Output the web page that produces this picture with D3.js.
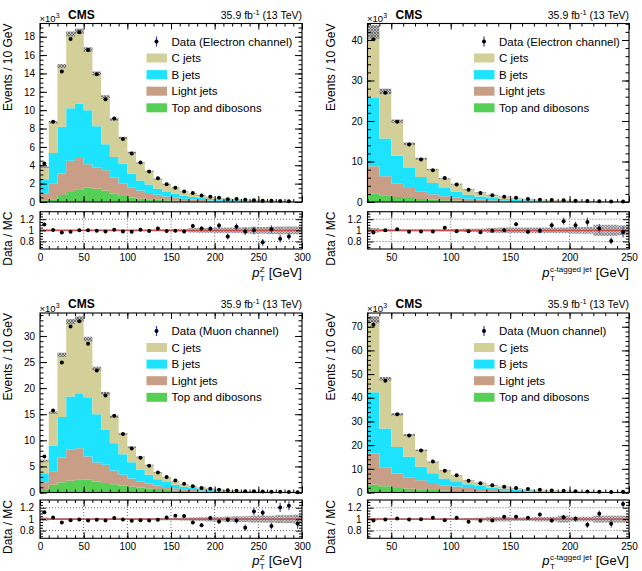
<!DOCTYPE html>
<html><head><meta charset="utf-8">
<script src="https://cdn.jsdelivr.net/npm/d3@7"></script>
<style>
body{margin:0;background:#fff}
svg{display:block}
text{font-family:"Liberation Sans",Arial,Helvetica,sans-serif;fill:#000}
</style>
</head><body>
<svg id="c" width="642" height="571"></svg>
<script>
// ---------------- DATA ----------------
const binWidth = 10;
const zBinLow   = [0,10,20,30,40,50,60,70,80,90,100,110,120,130,140,150,160,170,180,190,200,210,220,230,240,250,260,270,280,290];
const jetBinLow = [30,40,50,60,70,80,90,100,110,120,130,140,150,160,170,180,190,200,210,220,230,240];

const xTicksZ   = [0,50,100,150,200,250,300];
const xTicksJet = [50,100,150,200,250];
const yTicksElZ   = [0,2,4,6,8,10,12,14,16,18];
const yTicksElJet = [0,10,20,30,40];
const yTicksMuZ   = [0,5,10,15,20,25,30];
const yTicksMuJet = [0,10,20,30,40,50,60,70];
const ratioTicks  = [0.8,1,1.2];
const legendLabels = ["C jets","B jets","Light jets","Top and dibosons"];

// Electron channel, pT(Z)  (x10^3 events)
const elZ_top   = [0.2,0.3,0.75,1.1,1.4,1.55,1.45,1.25,0.9,0.65,0.5,0.35,0.3,0.25,0.2,0.15,0.1,0.08,0.07,0.05,0.04,0.035,0.03,0.025,0.02,0.017,0.014,0.012,0.01,0.008];
const elZ_light = [0.75,1.7,2.35,3.4,3.5,2.55,2.3,2.2,1.75,1.4,1.1,0.9,0.68,0.55,0.4,0.3,0.25,0.19,0.14,0.11,0.09,0.065,0.05,0.045,0.035,0.028,0.023,0.018,0.015,0.012];
const elZ_b     = [1.45,3.35,5.1,5.7,5.8,5.9,4.5,2.85,2.25,2.15,1.5,1.1,0.92,0.65,0.5,0.45,0.35,0.28,0.22,0.18,0.14,0.12,0.1,0.08,0.065,0.055,0.043,0.04,0.03,0.025];
const elZ_c     = [1.4,3.35,6.6,8.1,7.9,6.6,5.75,5.15,4.1,2.8,2.3,1.9,1.45,1.05,0.85,0.65,0.45,0.35,0.27,0.21,0.15,0.13,0.12,0.1,0.08,0.07,0.06,0.05,0.045,0.035];
const elZ_data  = [4.2,8.74,14.2,17.75,18.5,16.55,13.9,11.2,9.1,6.86,5.27,4.29,3.32,2.59,1.93,1.54,1.13,0.97,0.72,0.57,0.46,0.31,0.32,0.245,0.2,0.133,0.143,0.102,0.089,null];
const elZ_ratio = [1.107,1.005,0.96,0.976,1.0,1.0,0.995,0.98,1.01,0.98,0.976,1.01,0.99,1.035,0.99,0.995,0.98,1.08,1.035,1.03,1.085,0.89,1.065,0.98,1.0,0.785,1.02,0.85,0.89,null];
const elZ_rErr  = [0.02,0.012,0.01,0.008,0.008,0.008,0.009,0.01,0.011,0.013,0.015,0.017,0.019,0.022,0.025,0.028,0.032,0.037,0.04,0.045,0.05,0.055,0.06,0.065,0.07,0.06,0.07,0.07,0.06,null];
const elZ_unc   = [0.02,0.015,0.015,0.015,0.015,0.015,0.015,0.015,0.015,0.015,0.015,0.015,0.016,0.018,0.02,0.022,0.025,0.04,0.045,0.045,0.05,0.05,0.05,0.055,0.06,0.06,0.065,0.07,0.07,0.07];

// Electron channel, pT(c-tagged jet)
const elJ_top   = [2.1,1.65,1.25,1.0,0.75,0.6,0.45,0.35,0.25,0.2,0.15,0.12,0.09,0.07,0.055,0.045,0.035,0.028,0.022,0.018,0.014,0.011];
const elJ_light = [6.7,4.7,3.25,2.45,1.75,1.3,0.95,0.7,0.55,0.4,0.3,0.23,0.18,0.14,0.105,0.085,0.065,0.052,0.043,0.032,0.026,0.021];
const elJ_b     = [16.9,9.35,6.9,4.95,3.7,2.8,2.05,1.5,1.0,0.75,0.55,0.4,0.3,0.24,0.19,0.14,0.11,0.09,0.065,0.05,0.04,0.033];
const elJ_c     = [16.3,11.6,8.55,6.0,4.5,3.3,2.32,1.85,1.25,0.95,0.7,0.55,0.38,0.3,0.23,0.18,0.14,0.11,0.09,0.07,0.06,0.045];
const elJ_data  = [40.2,27.0,19.8,14.2,10.5,7.85,5.95,4.35,3.0,2.22,1.69,1.3,1.05,0.73,0.58,0.49,0.41,0.305,0.253,0.176,0.113,0.107];
const elJ_ratio = [0.96,1.0,1.02,0.975,0.98,0.98,1.045,0.985,0.985,0.965,0.995,1.0,1.11,0.975,0.995,1.09,1.165,1.09,1.15,1.035,0.81,0.97];
const elJ_rErr  = [0.008,0.008,0.009,0.01,0.012,0.013,0.015,0.018,0.02,0.023,0.027,0.03,0.035,0.04,0.045,0.05,0.06,0.065,0.075,0.08,0.06,0.1];
const elJ_unc   = [0.04,0.025,0.02,0.02,0.02,0.02,0.02,0.025,0.03,0.03,0.045,0.05,0.05,0.05,0.05,0.05,0.05,0.06,0.06,0.1,0.1,0.09];

// Muon channel, pT(Z)
const muZ_top   = [0.5,1.5,1.95,2.25,2.55,2.45,2.1,1.8,1.6,1.3,1.15,0.95,0.8,0.65,0.5,0.4,0.3,0.24,0.18,0.14,0.11,0.085,0.065,0.05,0.04,0.032,0.026,0.021,0.017,0.014];
const muZ_light = [1.45,2.55,4.75,5.95,5.95,4.45,3.65,3.5,2.6,2.1,1.55,1.15,0.9,0.65,0.55,0.4,0.3,0.23,0.18,0.13,0.1,0.08,0.065,0.05,0.04,0.033,0.026,0.021,0.017,0.014];
const muZ_b     = [1.75,4.95,7.75,10.2,10.5,11.35,9.25,6.7,5.25,3.95,3.1,2.25,1.7,1.25,0.95,0.7,0.5,0.38,0.29,0.23,0.18,0.135,0.1,0.08,0.06,0.045,0.038,0.03,0.024,0.02];
const muZ_c     = [2.4,6.3,11.95,14.35,14.25,11.15,8.75,7.0,5.1,3.9,2.9,2.45,1.85,1.3,0.9,0.65,0.5,0.4,0.3,0.22,0.17,0.14,0.11,0.09,0.07,0.06,0.05,0.038,0.032,0.027];
const muZ_data  = [6.9,15.7,24.9,31.8,32.8,28.5,23.4,18.6,14.7,11.2,8.45,6.66,5.12,3.81,2.99,2.28,1.69,1.18,0.85,0.73,0.54,0.44,0.33,0.23,0.24,0.19,0.123,0.133,0.111,0.069];
const muZ_ratio = [1.12,1.03,0.94,0.98,0.995,0.975,0.99,0.975,1.02,0.995,0.97,0.98,0.975,0.99,1.03,1.06,1.055,0.94,0.895,1.02,0.96,0.99,0.975,0.85,1.135,1.11,0.88,1.205,1.235,0.92];
const muZ_rErr  = [0.015,0.009,0.007,0.006,0.006,0.006,0.007,0.008,0.009,0.01,0.011,0.013,0.015,0.017,0.02,0.023,0.026,0.03,0.035,0.038,0.042,0.046,0.05,0.055,0.065,0.06,0.06,0.08,0.08,0.09];
const muZ_unc   = [0.03,0.015,0.015,0.015,0.015,0.015,0.015,0.015,0.015,0.015,0.015,0.015,0.015,0.02,0.02,0.02,0.025,0.03,0.035,0.04,0.04,0.045,0.05,0.05,0.06,0.06,0.06,0.07,0.07,0.08];

// Muon channel, pT(c-tagged jet)
const muJ_top   = [3.3,2.6,1.9,1.6,1.35,1.05,0.8,0.65,0.5,0.4,0.3,0.24,0.19,0.15,0.12,0.09,0.075,0.06,0.047,0.037,0.03,0.024];
const muJ_light = [13.2,8.1,6.1,4.6,3.85,3.0,2.25,1.85,1.4,1.05,0.8,0.61,0.46,0.35,0.28,0.21,0.165,0.13,0.103,0.083,0.065,0.051];
const muJ_b     = [25.8,16.3,11.2,8.9,5.7,4.1,2.85,2.2,1.6,1.25,0.95,0.7,0.55,0.42,0.32,0.25,0.2,0.15,0.12,0.09,0.075,0.06];
const muJ_c     = [30.7,21.0,13.8,9.2,6.9,4.7,3.4,2.45,1.7,1.35,1.05,0.8,0.6,0.48,0.38,0.3,0.24,0.19,0.15,0.12,0.09,0.075];
const muJ_data  = [70.8,47.2,33.0,24.1,17.7,13.1,9.15,7.3,4.97,3.93,3.02,2.44,1.87,1.44,1.19,0.83,0.70,0.53,0.38,0.36,0.24,0.27];
const muJ_ratio = [0.975,0.995,1.01,0.995,1.0,1.025,0.98,1.025,0.955,0.97,0.975,1.04,1.04,1.025,1.08,0.975,1.035,1.005,0.9,1.095,0.92,1.265];
const muJ_rErr  = [0.006,0.006,0.007,0.008,0.009,0.01,0.012,0.014,0.016,0.018,0.02,0.023,0.026,0.03,0.033,0.037,0.042,0.047,0.052,0.058,0.065,0.075];
const muJ_unc   = [0.02,0.015,0.015,0.015,0.015,0.015,0.015,0.015,0.02,0.025,0.04,0.04,0.03,0.03,0.04,0.04,0.06,0.04,0.04,0.06,0.06,0.06];

// ---------------- STYLE / LAYOUT ----------------
const colors = {c:"#d3cf98", b:"#1ee3ff", light:"#c89e86", top:"#55d055"};
const cols = [{x0:40,x1:302,titleX:12},{x0:367.5,x1:629,titleX:335}];
const rowsL = [{y0:23.5,y1:202,ry0:211.7,ry1:249,xtY:277},{y0:313,y1:492.5,ry0:500,ry1:538.3,xtY:564.5}];

const panels = [
 {col:0,row:0,bins:zBinLow,xDom:[0,300],xTicks:xTicksZ,yMax:19.44,yTicks:yTicksElZ,yMinor:0.5,
  top:elZ_top,light:elZ_light,b:elZ_b,c:elZ_c,data:elZ_data,ratio:elZ_ratio,rErr:elZ_rErr,unc:elZ_unc,
  chan:"Data (Electron channel)",sup:"Z"},
 {col:1,row:0,bins:jetBinLow,xDom:[30,250],xTicks:xTicksJet,yMax:44.07,yTicks:yTicksElJet,yMinor:2,
  top:elJ_top,light:elJ_light,b:elJ_b,c:elJ_c,data:elJ_data,ratio:elJ_ratio,rErr:elJ_rErr,unc:elJ_unc,
  chan:"Data (Electron channel)",sup:"c-tagged jet"},
 {col:0,row:1,bins:zBinLow,xDom:[0,300],xTicks:xTicksZ,yMax:34.4,yTicks:yTicksMuZ,yMinor:1,
  top:muZ_top,light:muZ_light,b:muZ_b,c:muZ_c,data:muZ_data,ratio:muZ_ratio,rErr:muZ_rErr,unc:muZ_unc,
  chan:"Data (Muon channel)",sup:"Z"},
 {col:1,row:1,bins:jetBinLow,xDom:[30,250],xTicks:xTicksJet,yMax:75.8,yTicks:yTicksMuJet,yMinor:2,
  top:muJ_top,light:muJ_light,b:muJ_b,c:muJ_c,data:muJ_data,ratio:muJ_ratio,rErr:muJ_rErr,unc:muJ_unc,
  chan:"Data (Muon channel)",sup:"c-tagged jet"}
];

const svg = d3.select("#c");
const defs = svg.append("defs");
const pat = defs.append("pattern").attr("id","hatch").attr("patternUnits","userSpaceOnUse").attr("width",3).attr("height",3);
pat.append("rect").attr("width",3).attr("height",3).attr("fill","#b4b4b4");
pat.append("path").attr("d","M0,0L3,3M3,0L0,3").attr("stroke","#555").attr("stroke-width",0.8);

function styleAxis(g, fs){
  g.select(".domain").remove();
  g.selectAll(".tick line").attr("stroke","#000").attr("stroke-width",1);
  g.selectAll(".tick text").attr("font-size",fs).attr("font-family","Liberation Sans, Arial, sans-serif").attr("fill","#000");
}
function rng(a,b,s){ const out=[]; for(let v=a; v<=b+1e-9; v+=s) out.push(+v.toFixed(6)); return out; }

function drawPanel(p){
  const C = cols[p.col], R = rowsL[p.row];
  const x = d3.scaleLinear().domain(p.xDom).range([C.x0,C.x1]);
  const y = d3.scaleLinear().domain([0,p.yMax]).range([R.y1,R.y0]);
  const yr = d3.scaleLinear().domain([0.665,1.335]).range([R.ry1,R.ry0]);
  const g = svg.append("g");

  const recs = p.bins.map((lo,i)=>({lo:lo,hi:lo+binWidth,top:p.top[i],light:p.light[i],b:p.b[i],c:p.c[i]}));
  const keys = ["top","light","b","c"];
  const stacked = d3.stack().keys(keys)(recs);
  const area = d3.area().x(d=>d.x).y0(d=>d.y0).y1(d=>d.y1);
  stacked.forEach((s,k)=>{
    const pts=[];
    s.forEach((d,i)=>{
      pts.push({x:x(recs[i].lo),y0:y(d[0]),y1:y(d[1])});
      pts.push({x:x(recs[i].hi),y0:y(d[0]),y1:y(d[1])});
    });
    g.append("path").attr("d",area(pts)).attr("fill",colors[keys[k]]);
  });
  const tot = recs.map(r=>r.top+r.light+r.b+r.c);
  g.selectAll(null).data(recs).enter().append("rect")
    .attr("x",d=>x(d.lo)).attr("width",d=>x(d.hi)-x(d.lo))
    .attr("y",(d,i)=>y(tot[i]*(1+p.unc[i])))
    .attr("height",(d,i)=>y(tot[i]*(1-p.unc[i]))-y(tot[i]*(1+p.unc[i])))
    .attr("fill","url(#hatch)").attr("opacity",0.9);

  const fs = 10;
  const yMinorTicks = rng(0,p.yMax,p.yMinor);
  const xMinorTicks = rng(p.xDom[0],p.xDom[1],10);
  let a;
  a = g.append("g").attr("transform",`translate(${C.x0},0)`).call(d3.axisLeft(y).tickValues(yMinorTicks).tickSize(-3.5).tickFormat("")); styleAxis(a,fs);
  a = g.append("g").attr("transform",`translate(${C.x0},0)`).call(d3.axisLeft(y).tickValues(p.yTicks).tickSize(-7).tickPadding(5).tickFormat(d3.format("d"))); styleAxis(a,fs);
  a = g.append("g").attr("transform",`translate(${C.x1},0)`).call(d3.axisRight(y).tickValues(yMinorTicks).tickSize(-3.5).tickFormat("")); styleAxis(a,fs);
  a = g.append("g").attr("transform",`translate(${C.x1},0)`).call(d3.axisRight(y).tickValues(p.yTicks).tickSize(-7).tickFormat("")); styleAxis(a,fs);
  a = g.append("g").attr("transform",`translate(0,${R.y1})`).call(d3.axisBottom(x).tickValues(xMinorTicks).tickSize(-3).tickFormat("")); styleAxis(a,fs);
  a = g.append("g").attr("transform",`translate(0,${R.y1})`).call(d3.axisBottom(x).tickValues(p.xTicks).tickSize(-6).tickFormat("")); styleAxis(a,fs);
  a = g.append("g").attr("transform",`translate(0,${R.y0})`).call(d3.axisTop(x).tickValues(xMinorTicks).tickSize(-3).tickFormat("")); styleAxis(a,fs);
  a = g.append("g").attr("transform",`translate(0,${R.y0})`).call(d3.axisTop(x).tickValues(p.xTicks).tickSize(-6).tickFormat("")); styleAxis(a,fs);
  g.append("rect").attr("x",C.x0).attr("y",R.y0).attr("width",C.x1-C.x0).attr("height",R.y1-R.y0)
    .attr("fill","none").attr("stroke","#000").attr("stroke-width",1.1);

  const dIdx = p.data.map((v,i)=>i).filter(i=>p.data[i]!==null);
  g.selectAll(null).data(dIdx).enter().append("line")
    .attr("x1",i=>x(p.bins[i]+binWidth/2)).attr("x2",i=>x(p.bins[i]+binWidth/2))
    .attr("y1",i=>y(p.data[i]+p.rErr[i]*tot[i])).attr("y2",i=>y(Math.max(0,p.data[i]-p.rErr[i]*tot[i])))
    .attr("stroke","#3a3ab0").attr("stroke-width",1.1);
  g.selectAll(null).data(dIdx).enter().append("circle")
    .attr("cx",i=>x(p.bins[i]+binWidth/2)).attr("cy",i=>y(p.data[i])).attr("r",2).attr("fill","#000");

  // ----- ratio panel -----
  ratioTicks.forEach(v=>{
    g.append("line").attr("x1",C.x0).attr("x2",C.x1).attr("y1",yr(v)).attr("y2",yr(v))
      .attr("stroke","#444").attr("stroke-width",0.8).attr("stroke-dasharray","1,2");
  });
  p.xTicks.filter(v=>v>p.xDom[0]&&v<p.xDom[1]).forEach(v=>{
    g.append("line").attr("x1",x(v)).attr("x2",x(v)).attr("y1",R.ry0).attr("y2",R.ry1)
      .attr("stroke","#444").attr("stroke-width",0.8).attr("stroke-dasharray","1,2");
  });
  g.selectAll(null).data(recs).enter().append("rect")
    .attr("x",d=>x(d.lo)).attr("width",d=>x(d.hi)-x(d.lo))
    .attr("y",(d,i)=>yr(1+p.unc[i])).attr("height",(d,i)=>yr(1-p.unc[i])-yr(1+p.unc[i]))
    .attr("fill","url(#hatch)").attr("opacity",0.75);
  g.append("line").attr("x1",C.x0).attr("x2",C.x1).attr("y1",yr(1)).attr("y2",yr(1))
    .attr("stroke","#d04545").attr("stroke-width",1.4);

  const rMinor = [0.7,0.75,0.85,0.9,0.95,1.05,1.1,1.15,1.25,1.3];
  a = g.append("g").attr("transform",`translate(${C.x0},0)`).call(d3.axisLeft(yr).tickValues(rMinor).tickSize(-3).tickFormat("")); styleAxis(a,fs);
  a = g.append("g").attr("transform",`translate(${C.x0},0)`).call(d3.axisLeft(yr).tickValues(ratioTicks).tickSize(-6).tickPadding(6).tickFormat(d3.format("~g"))); styleAxis(a,fs);
  a = g.append("g").attr("transform",`translate(${C.x1},0)`).call(d3.axisRight(yr).tickValues(rMinor).tickSize(-3).tickFormat("")); styleAxis(a,fs);
  a = g.append("g").attr("transform",`translate(${C.x1},0)`).call(d3.axisRight(yr).tickValues(ratioTicks).tickSize(-6).tickFormat("")); styleAxis(a,fs);
  a = g.append("g").attr("transform",`translate(0,${R.ry1})`).call(d3.axisBottom(x).tickValues(xMinorTicks).tickSize(-3).tickFormat("")); styleAxis(a,fs);
  a = g.append("g").attr("transform",`translate(0,${R.ry1})`).call(d3.axisBottom(x).tickValues(p.xTicks).tickSize(-6).tickPadding(4.5).tickFormat(d3.format("d"))); styleAxis(a,fs);
  a = g.append("g").attr("transform",`translate(0,${R.ry0})`).call(d3.axisTop(x).tickValues(xMinorTicks).tickSize(-3).tickFormat("")); styleAxis(a,fs);
  a = g.append("g").attr("transform",`translate(0,${R.ry0})`).call(d3.axisTop(x).tickValues(p.xTicks).tickSize(-6).tickFormat("")); styleAxis(a,fs);
  g.append("rect").attr("x",C.x0).attr("y",R.ry0).attr("width",C.x1-C.x0).attr("height",R.ry1-R.ry0)
    .attr("fill","none").attr("stroke","#000").attr("stroke-width",1.1);

  const rIdx = p.ratio.map((v,i)=>i).filter(i=>p.ratio[i]!==null);
  g.selectAll(null).data(rIdx).enter().append("line")
    .attr("x1",i=>x(p.bins[i]+binWidth/2)).attr("x2",i=>x(p.bins[i]+binWidth/2))
    .attr("y1",i=>yr(p.ratio[i]+p.rErr[i])).attr("y2",i=>yr(p.ratio[i]-p.rErr[i]))
    .attr("stroke","#4a4ab8").attr("stroke-width",1.2);
  g.selectAll(null).data(rIdx).enter().append("circle")
    .attr("cx",i=>x(p.bins[i]+binWidth/2)).attr("cy",i=>yr(p.ratio[i])).attr("r",2).attr("fill","#000");

  // ----- texts -----
  g.append("text").attr("transform",`translate(${C.titleX},${R.y0}) rotate(-90)`)
    .attr("text-anchor","end").attr("font-size",12).text("Events / 10 GeV");
  g.append("text").attr("transform",`translate(${C.titleX},${R.ry0}) rotate(-90)`)
    .attr("text-anchor","end").attr("font-size",12).text("Data / MC");

  const gev = g.append("text").attr("x",C.x1).attr("y",R.xtY).attr("text-anchor","end").attr("font-size",13).text("[GeV]");
  const wg = gev.node().getComputedTextLength();
  const supT = g.append("text").attr("x",C.x1-wg-4).attr("y",R.xtY-5).attr("text-anchor","end").attr("font-size",8).text(p.sup);
  const ws = supT.node().getComputedTextLength();
  const sx = C.x1-wg-4-ws;
  g.append("text").attr("x",sx).attr("y",R.xtY+4.3).attr("font-size",8).text("T");
  g.append("text").attr("x",sx-0.5).attr("y",R.xtY).attr("text-anchor","end").attr("font-size",13).attr("font-style","italic").text("p");

  const hy = R.y0-5;
  const xt = g.append("text").attr("x",C.x0-0.5).attr("y",R.y0-1.5).attr("font-size",9.5).attr("fill","#444");
  xt.append("tspan").text("\u00d710");
  xt.append("tspan").attr("dy",-4).attr("font-size",7).text("3");
  g.append("text").attr("x",C.x0+28).attr("y",hy).attr("font-size",12).attr("font-weight","bold").text("CMS");
  const lt = g.append("text").attr("x",C.x1).attr("y",hy).attr("text-anchor","end").attr("font-size",10.5);
  lt.append("tspan").text("35.9 fb");
  lt.append("tspan").attr("dy",-4).attr("font-size",7.5).text("-1");
  lt.append("tspan").attr("dy",4).text(" (13 TeV)");

  const lx = C.x0+106.5, tx = C.x0+131.5;
  const mx = C.x0+116.5;
  g.append("line").attr("x1",mx).attr("x2",mx).attr("y1",R.y0+13).attr("y2",R.y0+23).attr("stroke","#3a3ab0").attr("stroke-width",1.2);
  g.append("circle").attr("cx",mx).attr("cy",R.y0+18).attr("r",2).attr("fill","#000");
  g.append("text").attr("x",tx).attr("y",R.y0+22).attr("font-size",11.5).text(p.chan);
  const lkeys = ["c","b","light","top"];
  lkeys.forEach((k,i)=>{
    const yy = R.y0+30+16.6*i;
    g.append("rect").attr("x",lx).attr("y",yy).attr("width",20.5).attr("height",9).attr("fill",colors[k]);
    g.append("text").attr("x",tx).attr("y",yy+8.5).attr("font-size",11.5).text(legendLabels[i]);
  });
}
panels.forEach(drawPanel);
</script>
</body></html>
